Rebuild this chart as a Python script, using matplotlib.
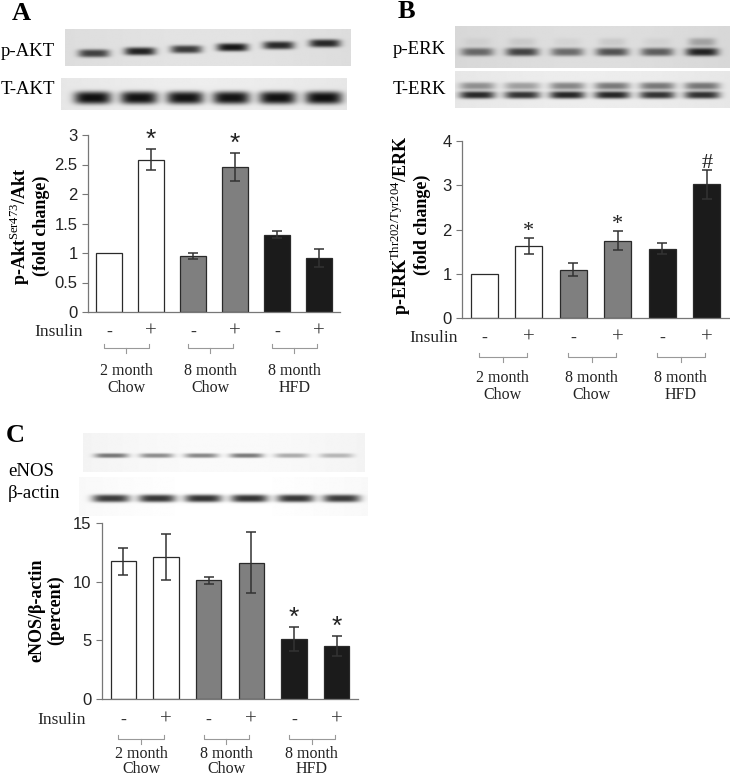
import numpy as np
import matplotlib
matplotlib.use("Agg")
import matplotlib.pyplot as plt
from matplotlib.transforms import blended_transform_factory

plt.rcParams['font.family'] = ['Liberation Serif', 'DejaVu Serif']
plt.rcParams['mathtext.fontset'] = 'custom'
plt.rcParams['mathtext.rm'] = 'Liberation Serif'

# ---- data ----
insulin = ['-', '+', '-', '+', '-', '+']
groups = [['2 month', 'Chow'], ['8 month', 'Chow'], ['8 month', 'HFD']]
bar_colors = ['white', 'white', '#7f7f7f', '#7f7f7f', '#1b1b1b', '#1b1b1b']

akt_vals = [1.0, 2.58, 0.95, 2.46, 1.31, 0.91]
akt_err = [0.0, 0.18, 0.05, 0.24, 0.06, 0.15]
akt_sig = ['', '*', '', '*', '', '']

erk_vals = [1.0, 1.63, 1.09, 1.75, 1.57, 3.02]
erk_err = [0.0, 0.18, 0.15, 0.22, 0.13, 0.33]
erk_sig = ['', '*', '', '*', '', '#']

enos_vals = [11.75, 12.1, 10.1, 11.6, 5.1, 4.5]
enos_err = [1.15, 2.0, 0.3, 2.6, 1.0, 0.85]
enos_sig = ['', '', '', '', '*', '*']

# blot band darkness per lane
pakt_bands = [0.62, 0.75, 0.66, 0.80, 0.72, 0.72]
takt_bands = [0.85, 0.85, 0.85, 0.85, 0.85, 0.85]
perk_bands = [0.45, 0.60, 0.45, 0.55, 0.50, 0.72]
perk_faint = [0.04, 0.07, 0.04, 0.08, 0.04, 0.22]
terk_upper = [0.35, 0.30, 0.40, 0.45, 0.45, 0.45]
terk_lower = [0.75, 0.72, 0.78, 0.78, 0.72, 0.72]
enos_bands = [0.50, 0.42, 0.45, 0.50, 0.30, 0.25]
actin_bands = [0.75, 0.78, 0.80, 0.80, 0.78, 0.75]

W, H = 730, 780
fig = plt.figure(figsize=(W / 100, H / 100), dpi=100)


def box(x0, y0, x1, y1):
    return [x0 / W, 1 - y1 / H, (x1 - x0) / W, (y1 - y0) / H]


def fy(py):
    return 1 - py / H


def blot(rect, bg, layers, lane_lo=0.1, lane_hi=0.91, tilt=0.0):
    ax = fig.add_axes(box(*rect))
    ax.axis('off')
    h, w = 60, 300
    yy, xx = np.mgrid[0:1:h * 1j, 0:1:w * 1j]
    img = np.full((h, w), bg)
    img += 0.05 * np.exp(-((xx - 0.5) / 0.6) ** 2)
    lanes = np.linspace(lane_lo, lane_hi, 6)
    for yc, hy, wx, dark in layers:
        for i, (cx, d) in enumerate(zip(lanes, dark)):
            y0 = yc - tilt * i
            img -= d * np.exp(-np.abs((xx - cx) / wx) ** 4 - np.abs((yy - y0) / hy) ** 3)
    ax.imshow(np.clip(img, 0, 1), cmap='gray', vmin=0, vmax=1, aspect='auto',
              interpolation='bilinear')
    return ax


def bar_panel(rect, vals, errs, sig, ylim, yticks, ylabel, label_xy, sig_font,
              insulin_x, insulin_y, bracket_y, group_y, group_gap=17):
    ax = fig.add_axes(box(*rect))
    x = np.arange(len(vals))
    ax.bar(x, vals, width=0.6, color=bar_colors, edgecolor='#2a2a2a', linewidth=0.9)
    for xi, v, e in zip(x, vals, errs):
        if e > 0:
            ax.errorbar(xi, v, yerr=e, color='#333333', capsize=3.5, elinewidth=1.1,
                        capthick=1.1)
    for xi, v, e, s in zip(x, vals, errs, sig):
        if s:
            ax.annotate(s, (xi, v + e), xytext=(0, -2), textcoords='offset points',
                        ha='center', va='bottom', fontsize=sig_font[0],
                        family=sig_font[1], color='#222222')
    ax.set_xlim(-0.5, 5.5)
    ax.set_ylim(*ylim)
    ax.set_yticks(yticks)
    ax.set_yticklabels([f'{t:g}' for t in yticks], family='Liberation Sans',
                       fontsize=12, color='#222222')
    ax.set_xticks([])
    for s in ['top', 'right']:
        ax.spines[s].set_visible(False)
    for s in ['left', 'bottom']:
        ax.spines[s].set_color('#777777')
        ax.spines[s].set_linewidth(0.9)
    ax.tick_params(axis='y', direction='out', length=4.5, color='#777777', pad=3)
    fig.text(label_xy[0] / W, fy(label_xy[1]), ylabel, rotation=90, ha='center',
             va='center', fontsize=13, fontweight='bold', linespacing=1.1)

    tr = blended_transform_factory(ax.transData, fig.transFigure)
    ax.text(insulin_x, fy(insulin_y), 'Insulin', transform=tr, ha='right',
            va='center', fontsize=12.5, color='#222222', clip_on=False)
    for xi, s in zip(x, insulin):
        ax.text(xi, fy(insulin_y), s, transform=tr, ha='center', va='center',
                fontsize=15 if s == '+' else 13, color='#333333', clip_on=False)
    for g, (l1, l2) in enumerate(groups):
        a, b = 2 * g - 0.12, 2 * g + 1 - 0.05
        m = (a + b) / 2
        by = fy(bracket_y)
        ax.plot([a, a, b, b], [by + 4 / H, by, by, by + 4 / H], transform=tr,
                color='#999999', lw=0.8, clip_on=False)
        ax.plot([m, m], [by, by - 5 / H], transform=tr, color='#999999', lw=0.8,
                clip_on=False)
        ax.text(m, fy(group_y), l1, transform=tr, ha='center', va='center',
                fontsize=11.5, color='#222222', clip_on=False)
        ax.text(m, fy(group_y + group_gap), l2, transform=tr, ha='center',
                va='center', fontsize=11.5, color='#222222', clip_on=False)
    return ax


# ---- panel A ----
fig.text(12 / W, fy(13), 'A', fontsize=19, fontweight='bold', va='center')
blot((65, 29, 351, 66), 0.84, [(0.66, 0.11, 0.055, pakt_bands)], tilt=0.055)
blot((61, 78, 347, 110), 0.88, [(0.62, 0.2, 0.065, takt_bands)], lane_lo=0.11,
     lane_hi=0.92)
fig.text(1 / W, fy(52), 'p-AKT', fontsize=13.5, va='center')
fig.text(1 / W, fy(90), 'T-AKT', fontsize=13.5, va='center')
bar_panel((88, 135, 340, 312), akt_vals, akt_err, akt_sig, (0, 3),
          [0, 0.5, 1, 1.5, 2, 2.5, 3],
          'p-Akt$^{\\mathrm{Ser473}}$/Akt\n(fold change)', (29, 226),
          (19, 'Liberation Sans'), -0.62, 332, 348, 371)

# ---- panel B ----
fig.text(398 / W, fy(12), 'B', fontsize=19, fontweight='bold', va='center')
blot((455, 26, 730, 68), 0.82, [(0.62, 0.1, 0.06, perk_bands),
                                (0.38, 0.1, 0.05, perk_faint)],
     lane_lo=0.08, lane_hi=0.9)
blot((455, 71, 730, 108), 0.88, [(0.42, 0.1, 0.065, terk_upper),
                                 (0.66, 0.1, 0.065, terk_lower)],
     lane_lo=0.08, lane_hi=0.9)
fig.text(393 / W, fy(50), 'p-ERK', fontsize=13.5, va='center')
fig.text(393 / W, fy(89), 'T-ERK', fontsize=13.5, va='center')
bar_panel((462, 141, 729, 318), erk_vals, erk_err, erk_sig, (0, 4),
          [0, 1, 2, 3, 4],
          'p-ERK$^{\\mathrm{Thr202/Tyr204}}$/ERK\n(fold change)', (410, 225),
          (16, 'Liberation Serif'), -0.6, 338, 357, 378)

# ---- panel C ----
fig.text(6 / W, fy(436), 'C', fontsize=19, fontweight='bold', va='center')
blot((83, 433, 365, 472), 0.93, [(0.58, 0.06, 0.06, enos_bands)], lane_lo=0.1,
     lane_hi=0.9)
blot((79, 477, 368, 516), 0.95, [(0.55, 0.1, 0.065, actin_bands)], lane_lo=0.11,
     lane_hi=0.91)
fig.text(8 / W, fy(471), 'eNOS', fontsize=13.5, va='center')
fig.text(8 / W, fy(493), 'β-actin', fontsize=13.5, va='center')
bar_panel((102, 523, 358, 699), enos_vals, enos_err, enos_sig, (0, 15),
          [0, 5, 10, 15],
          'eNOS/β-actin\n(percent)', (46, 610),
          (19, 'Liberation Sans'), -0.88, 720, 739, 754, group_gap=15)

fig.savefig('out.png', dpi=100, facecolor='white')
